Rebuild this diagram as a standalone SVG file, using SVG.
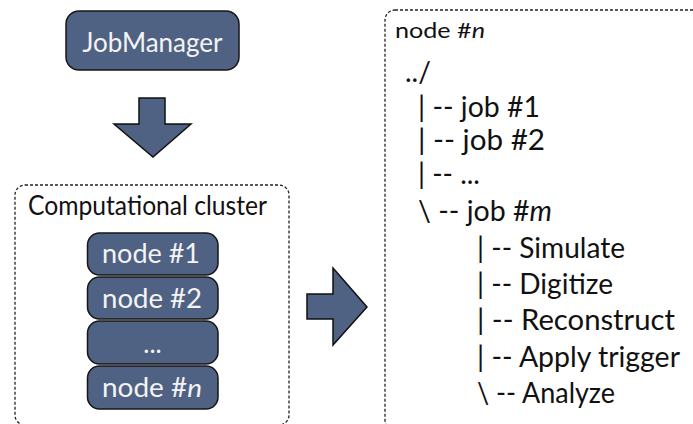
<svg xmlns="http://www.w3.org/2000/svg" width="693" height="424" viewBox="0 0 693 424">
<style>
text { font-family: Lato, "Open Sans", "Liberation Sans", sans-serif; }
.box { fill: #4f6283; stroke: #161616; stroke-width: 1.5; }
.lbl { fill: #f4f4f4; font-size: 26px; text-anchor: middle; }
.frame { fill: none; stroke: #222; stroke-width: 1.3; stroke-dasharray: 3 2; }
.tree { fill: #111; font-size: 28px; }
.arrow { fill: #4f6283; stroke: #111; stroke-width: 1.5; stroke-linejoin: miter; }
</style>
<rect width="693" height="424" fill="#fff"/>

<g id="jobmanager">
  <rect class="box" x="66" y="11" width="173" height="59" rx="13"/>
  <text class="lbl" x="152.5" y="52" font-size="29" textLength="140" lengthAdjust="spacingAndGlyphs">JobManager</text>
</g>

<g id="cluster">
  <rect class="frame" x="15" y="185" width="274" height="240" rx="10"/>
  <text x="28" y="215" font-size="27" fill="#111" textLength="239" lengthAdjust="spacingAndGlyphs">Computational cluster</text>
</g>

<g id="node1">
  <rect class="box" x="87.5" y="233" width="130.5" height="42" rx="12"/>
  <text class="lbl" x="151" y="263" textLength="98" lengthAdjust="spacingAndGlyphs">node #1</text>
</g>
<g id="node2">
  <rect class="box" x="87.5" y="277" width="130.5" height="42" rx="12"/>
  <text class="lbl" x="152" y="308" textLength="100" lengthAdjust="spacingAndGlyphs">node #2</text>
</g>
<g id="nodedots">
  <rect class="box" x="87.5" y="321" width="130.5" height="43" rx="12"/>
  <text class="lbl" x="152.5" y="353">...</text>
</g>
<g id="noden">
  <rect class="box" x="87.5" y="366" width="130.5" height="43" rx="12"/>
  <text class="lbl" x="152" y="397" textLength="100" lengthAdjust="spacingAndGlyphs">node #<tspan font-style="italic">n</tspan></text>
</g>

<g id="connectors">
  <polygon class="arrow" points="139,98 165,98 165,124 191,124 153,157 114,124 139,124"/>
  <polygon class="arrow" points="307,294 333,294 333,268 367,307 333,345 333,319 307,319"/>
</g>

<g id="nodedetail">
  <rect class="frame" x="385" y="10" width="330" height="420" rx="10"/>
  <text x="395" y="38" font-size="21" fill="#111" textLength="90" lengthAdjust="spacingAndGlyphs">node #<tspan font-style="italic">n</tspan></text>
  <text class="tree" x="405" y="82">../</text>
  <text class="tree" x="418" y="117" textLength="122" lengthAdjust="spacingAndGlyphs">| -- job #1</text>
  <text class="tree" x="418" y="150" textLength="127" lengthAdjust="spacingAndGlyphs">| -- job #2</text>
  <text class="tree" x="418" y="184">| -- ...</text>
  <text class="tree" x="418" y="221" textLength="134" lengthAdjust="spacingAndGlyphs">\ -- job #<tspan font-style="italic">m</tspan></text>
  <text class="tree" x="477" y="258" textLength="148" lengthAdjust="spacingAndGlyphs">| -- Simulate</text>
  <text class="tree" x="477" y="294" textLength="136" lengthAdjust="spacingAndGlyphs">| -- Digitize</text>
  <text class="tree" x="477" y="330" textLength="198" lengthAdjust="spacingAndGlyphs">| -- Reconstruct</text>
  <text class="tree" x="477" y="367" textLength="203" lengthAdjust="spacingAndGlyphs">| -- Apply trigger</text>
  <text class="tree" x="477" y="403" textLength="138" lengthAdjust="spacingAndGlyphs">\ -- Analyze</text>
</g>
</svg>
